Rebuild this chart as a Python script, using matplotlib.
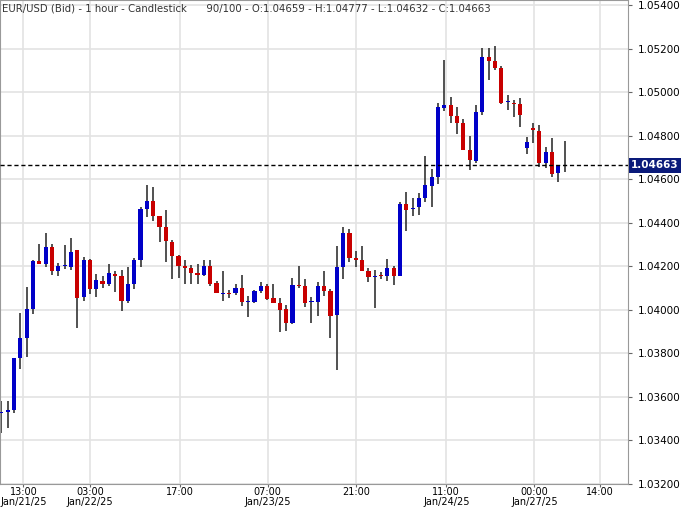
import numpy as np
import matplotlib
matplotlib.use("Agg")
import matplotlib.pyplot as plt

opens = [1.03528,1.03532,1.03542,1.03780,1.03872,1.04005,1.04226,1.04212,1.04290,1.04180,
         1.04203,1.04198,1.04276,1.04060,1.04230,1.04097,1.04134,1.04120,1.04166,1.04157,
         1.04042,1.04120,1.04230,1.04464,1.04501,1.04432,1.04382,1.04313,1.04249,1.04203,
         1.04193,1.04170,1.04161,1.04203,1.04125,1.04074,1.04079,1.04079,1.04102,1.04037,
         1.04037,1.04088,1.04111,1.04056,1.04033,1.04005,1.03941,1.04115,1.04111,1.04037,
         1.04037,1.04111,1.04088,1.03978,1.04198,1.04354,1.04239,1.04230,1.04180,1.04152,
         1.04161,1.04157,1.04193,1.04157,1.04487,1.04464,1.04473,1.04515,1.04570,1.04611,
         1.04928,1.04942,1.04891,1.04859,1.04735,1.04685,1.04909,1.05162,1.05144,1.05111,
         1.04955,1.04951,1.04946,1.04744,1.04836,1.04822,1.04675,1.04726,1.04630,1.04659]
highs = [1.03583,1.03583,1.03780,1.03987,1.04106,1.04230,1.04304,1.04354,1.04304,1.04216,
         1.04299,1.04331,1.04276,1.04244,1.04235,1.04166,1.04157,1.04212,1.04180,1.04184,
         1.04198,1.04239,1.04473,1.04574,1.04565,1.04432,1.04460,1.04322,1.04253,1.04230,
         1.04207,1.04212,1.04230,1.04230,1.04134,1.04180,1.04092,1.04120,1.04161,1.04065,
         1.04092,1.04129,1.04120,1.04120,1.04056,1.04024,1.04148,1.04203,1.04143,1.04060,
         1.04129,1.04180,1.04097,1.04294,1.04382,1.04372,1.04271,1.04294,1.04193,1.04184,
         1.04175,1.04235,1.04203,1.04496,1.04542,1.04515,1.04538,1.04708,1.04648,1.04951,
         1.05148,1.04978,1.04932,1.04877,1.04799,1.04942,1.05203,1.05203,1.05212,1.05121,
         1.04988,1.04965,1.04974,1.04795,1.04859,1.04850,1.04749,1.04790,1.04666,1.04777]
lows = [1.03432,1.03459,1.03528,1.03730,1.03785,1.03982,1.04212,1.04198,1.04161,1.04157,
        1.04189,1.04184,1.03918,1.04042,1.04074,1.04060,1.04102,1.04111,1.04083,1.03996,
        1.04033,1.04097,1.04198,1.04428,1.04409,1.04313,1.04221,1.04143,1.04148,1.04120,
        1.04120,1.04120,1.04157,1.04111,1.04079,1.04042,1.04056,1.04070,1.04019,1.03969,
        1.04033,1.04079,1.04047,1.04033,1.03900,1.03904,1.03936,1.04102,1.04014,1.03941,
        1.03973,1.04065,1.03872,1.03725,1.04143,1.04221,1.04198,1.04180,1.04129,1.04010,
        1.04143,1.04134,1.04115,1.04157,1.04363,1.04432,1.04437,1.04496,1.04473,1.04579,
        1.04914,1.04859,1.04809,1.04735,1.04643,1.04675,1.04896,1.05056,1.05102,1.04946,
        1.04919,1.04887,1.04841,1.04717,1.04767,1.04657,1.04652,1.04611,1.04588,1.04632]
closes = [1.03532,1.03542,1.03780,1.03872,1.04005,1.04226,1.04212,1.04290,1.04180,1.04203,
          1.04207,1.04267,1.04056,1.04230,1.04097,1.04138,1.04120,1.04170,1.04157,1.04042,
          1.04120,1.04230,1.04464,1.04501,1.04432,1.04382,1.04317,1.04249,1.04203,1.04193,
          1.04170,1.04161,1.04203,1.04120,1.04079,1.04079,1.04074,1.04102,1.04037,1.04040,
          1.04088,1.04111,1.04051,1.04033,1.04001,1.03941,1.04115,1.04111,1.04033,1.04039,
          1.04111,1.04088,1.03973,1.04198,1.04354,1.04239,1.04230,1.04180,1.04152,1.04157,
          1.04157,1.04193,1.04157,1.04487,1.04460,1.04469,1.04515,1.04574,1.04611,1.04932,
          1.04942,1.04891,1.04859,1.04735,1.04689,1.04909,1.05162,1.05144,1.05111,1.04951,
          1.04957,1.04946,1.04896,1.04772,1.04827,1.04675,1.04726,1.04625,1.04662,1.04663]

time_pos = [3.5, 14, 28.2, 42.1, 56, 70.3, 84.2, 94.6]
time_lab = ["13:00", "03:00", "17:00", "07:00", "21:00", "11:00", "00:00", "14:00"]
date_pos = [3.5, 14, 42.1, 70.3, 84.2]
date_lab = ["Jan/21/25", "Jan/22/25", "Jan/23/25", "Jan/24/25", "Jan/27/25"]
last_price = 1.04663

fig = plt.figure(figsize=(6.9, 5.07), dpi=100)
ax = fig.add_axes([0, 23/507, 628/690, 484/507])

x = np.arange(len(opens))
o = np.array(opens); c = np.array(closes)
up = c >= o
cols = np.where(up, "#0000c8", "#c80000")
ax.vlines(x, lows, highs, color="#333333", lw=1.2, zorder=2)
bottom = np.minimum(o, c)
height = np.maximum(np.abs(c - o), 0.000012)
ax.bar(x, height, bottom=bottom, width=0.65, color=cols, zorder=3)

ax.set_xlim(-0.2, 99)
ax.set_ylim(1.0320, 1.05423)
yt = np.arange(1.0320, 1.05401, 0.0020)
ax.set_yticks(yt)
ax.set_yticklabels([f"{v:.5f}" for v in yt], fontsize=7.5)
ax.yaxis.tick_right()
ax.tick_params(axis="y", length=3, color="#666666", pad=4)
ax.set_xticks(time_pos)
ax.set_xticklabels(time_lab, fontsize=7)
ax.tick_params(axis="x", length=2, color="#666666", pad=0.5)
ax.grid(True, color="#e3e3e3", lw=1.2, zorder=0)
for s in ax.spines.values():
    s.set_color("#999999")

for p, lab in zip(date_pos, date_lab):
    ax.text(p, -0.027, lab, transform=ax.get_xaxis_transform(), ha="center", va="top", fontsize=7)

ax.axhline(last_price, color="black", ls=(0, (3, 2)), lw=1, zorder=4)
ax.text(1.005, last_price, f"{last_price:.5f}", transform=ax.get_yaxis_transform(),
        ha="left", va="center", fontsize=7.5, color="white", fontweight="bold",
        bbox=dict(boxstyle="square,pad=0.2", fc="#0a1a7a", ec="none"), zorder=5)

ax.text(0.003, 0.993, "EUR/USD (Bid) - 1 hour - Candlestick      90/100 - O:1.04659 - H:1.04777 - L:1.04632 - C:1.04663",
        transform=ax.transAxes, ha="left", va="top", fontsize=7.3, color="#333333")

fig.savefig("out.png", dpi=100)
